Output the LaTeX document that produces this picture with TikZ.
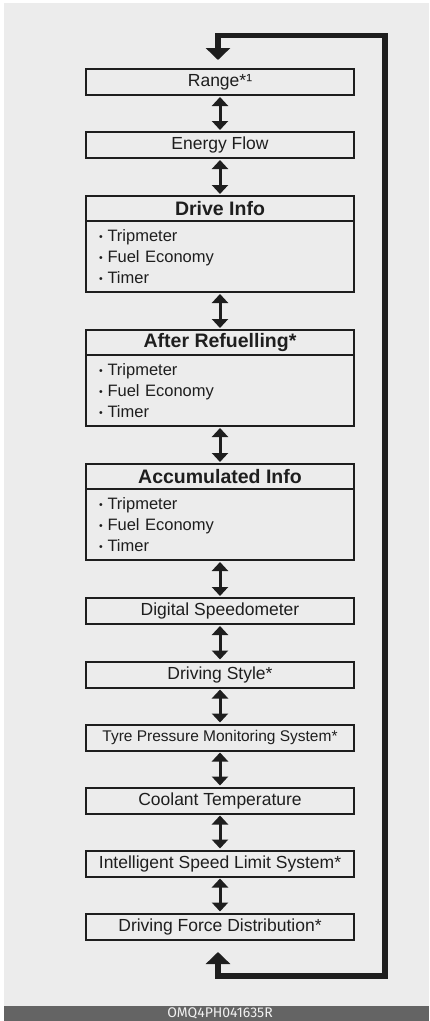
\documentclass[tikz,border=0pt]{standalone}
\usepackage{fontspec}
\setmainfont{Liberation Sans}
\newfontfamily\codefont{Fira Sans}
\usepackage{xcolor}
\usetikzlibrary{positioning, arrows.meta}

\definecolor{panel}{HTML}{ECECEC}
\definecolor{ink}{HTML}{1E1E1E}
\definecolor{barfill}{HTML}{646464}
\newcommand{\blt}{\makebox[8.5pt][l]{\raisebox{1pt}{\fontsize{10.5}{10}\selectfont\textbullet}}}

\begin{document}
\begin{tikzpicture}[
  x=1pt, y=-1pt,
  font=\fontsize{17.5}{20}\selectfont,
  item/.style={draw=ink, line width=2pt, rectangle, outer sep=0pt, inner sep=0pt,
    minimum width=268pt, minimum height=26pt, text=ink},
  head/.style={item, minimum height=25pt, font=\fontsize{19.5}{22}\selectfont\bfseries},
  sublist/.style={draw=ink, line width=2pt, rectangle, outer sep=0pt,
    minimum width=268pt, minimum height=71pt, text width=242pt,
    inner xsep=13pt, inner ysep=0pt, align=left, text=ink,
    font=\fontsize{16.5}{21}\selectfont},
  dbl/.style={{Triangle[width=16pt,length=9pt]}-{Triangle[width=16pt,length=9pt]},
    line width=3pt, ink, shorten <=2pt, shorten >=2pt},
  loopline/.style={{Triangle[width=24pt,length=12pt]}-{Triangle[width=24pt,length=12pt]},
    line width=5.5pt, ink},
]
  % Frame: white margin, grey panel, code bar
  \useasboundingbox (0,0) rectangle (429,1021);
  \fill[white] (0,0) rectangle (429,1021);
  \fill[panel] (4,3) rectangle (429,1006);
  \fill[barfill] (4,1006) rectangle (429,1021);
  \node[text=white!94!black, font=\codefont\fontsize{14}{14}\selectfont] (code) at (220,1013.5) {OMQ4PH041635R};

  % Simple screens (top)
  \node[item] (range) at (220,82) {Range*¹};
  \node[item] (energy) at (220,145) {Energy Flow};

  % Screens with sub items
  \node[head] (drive) at (220,208.5) {Drive Info};
  \node[sublist, below=0pt of drive] (drivelist)
    {\blt Tripmeter\\ \blt Fuel Economy\\ \blt Timer};
  \node[head] (refuel) at (220,342.5) {After Refuelling*};
  \node[sublist, below=0pt of refuel] (refuellist)
    {\blt Tripmeter\\ \blt Fuel Economy\\ \blt Timer};
  \node[head] (accum) at (220,476.5) {Accumulated Info};
  \node[sublist, below=0pt of accum] (accumlist)
    {\blt Tripmeter\\ \blt Fuel Economy\\ \blt Timer};

  % Simple screens (bottom)
  \node[item] (speedo) at (220,611) {Digital Speedometer};
  \node[item] (style) at (220,674.5) {Driving Style*};
  \node[item, font=\fontsize{15.5}{18}\selectfont] (tpms) at (220,737.5) {Tyre Pressure Monitoring System*};
  \node[item] (coolant) at (220,800.5) {Coolant Temperature};
  \node[item] (isls) at (220,863.5) {Intelligent Speed Limit System*};
  \node[item] (dfd) at (220,926.5) {Driving Force Distribution*};

  % Two-way arrows between screens
  \foreach \a/\b in {range/energy, energy/drive, drivelist/refuel, refuellist/accum,
      accumlist/speedo, speedo/style, style/tpms, tpms/coolant, coolant/isls, isls/dfd}
    \draw[dbl] (\a) -- (\b);

  % Return loop
  \draw[loopline] ([xshift=-2pt,yshift=-12.5pt]dfd.south) -- ++(0,24) -| (385,35.5)
    -| ([xshift=-2pt,yshift=9pt]range.north);
\end{tikzpicture}
\end{document}
